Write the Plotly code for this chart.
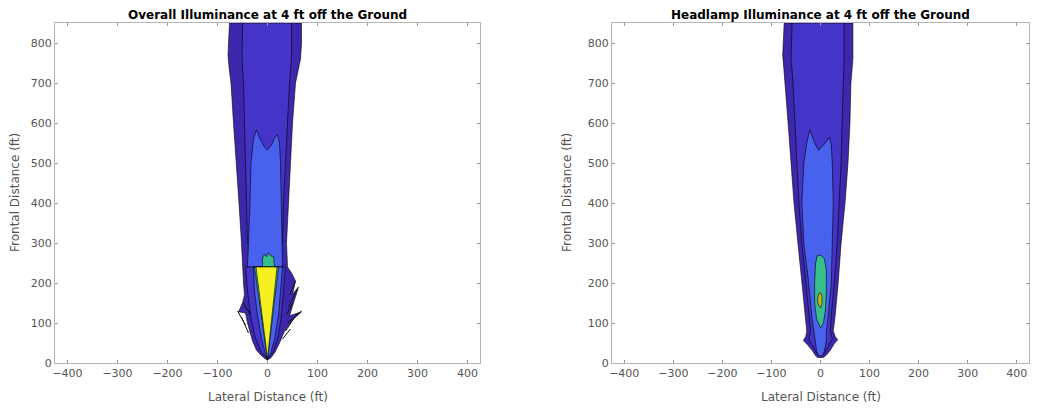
import plotly.graph_objects as go

# ---------------- data: contour region outlines (ft) ----------------
# Left: Overall illuminance
L_outer_x = [-76, -77, -79, -77, -73, -68, -62, -57, -52, -50, -48, -46, -50, -58, -44, -40, -36, -30, -22, -12, -4,
             0, 6, 14, 24, 34, 48, 68, 44, 52, 62, 50, 56, 48, 40, 38, 42, 46, 50, 56, 66, 68, 68]
L_outer_y = [850, 800, 770, 740, 700, 600, 500, 400, 300, 240, 200, 170, 150, 128, 125, 100, 80, 55, 32, 18, 10,
             8, 12, 25, 50, 80, 105, 128, 118, 150, 190, 172, 205, 225, 240, 300, 400, 500, 600, 700, 760, 800, 850]
L_inner_x = [-50, -51, -48, -46, -44, -41, -40, 30, 32, 36, 40, 44, 48, 48]
L_inner_y = [850, 760, 700, 600, 500, 400, 300, 300, 400, 500, 600, 700, 760, 850]
L_light_x = [-40, -38, -35, -33, -28, -22, -15, -6, 0, 8, 15, 20, 24, 26, 28, 30, 30]
L_light_y = [240, 300, 400, 500, 560, 583, 560, 540, 532, 545, 565, 570, 550, 500, 400, 300, 240]
L_bot2_x = [-44, -40, -34, -26, -14, 0, 12, 22, 28, 32, 36]
L_bot2_y = [240, 180, 120, 70, 30, 10, 30, 70, 120, 180, 240]
L_bot3_x = [-28, -26, -20, -12, -4, 0, 6, 14, 22, 26, 30]
L_bot3_y = [240, 180, 120, 60, 22, 9, 22, 60, 120, 180, 240]
L_green_x = [-10, -10, -6, -2, 2, 6, 12, 14]
L_green_y = [240, 262, 272, 266, 276, 268, 266, 240]
L_yg_x = [-26, 0, 22]
L_yg_y = [240, 8, 240]
L_yellow_x = [-23, 0, 19]
L_yellow_y = [240, 12, 240]
# feather strokes (contour lines) at the lower flanks
L_feather_x = [[-60, -44], [-52, -38], [-48, -34], [40, 68], [42, 60], [44, 56], [36, 52], [38, 50], [30, 46]]
L_feather_y = [[130, 95], [115, 75], [150, 120], [100, 130], [140, 185], [170, 205], [80, 110], [120, 150], [60, 85]]

# Right: Headlamp illuminance
R_outer_x = [-74, -75, -77, -75, -72, -66, -60, -54, -46, -38, -32, -28, -30, -35, -26, -16, -10, -6, 6, 12, 20, 28,
             35, 30, 26, 30, 36, 42, 50, 56, 60, 62, 66, 66, 66]
R_outer_y = [850, 800, 770, 740, 700, 600, 500, 400, 300, 200, 120, 80, 66, 56, 45, 30, 18, 14, 14, 20, 32, 48,
             58, 66, 80, 120, 200, 300, 400, 500, 600, 700, 760, 800, 850]
R_inner_x = [-58, -60, -56, -52, -48, -44, -38, -30, -24, -20, -24, -14, -6, 6, 14, 24, 20, 22, 28, 34, 38, 42, 44,
             46, 48, 48]
R_inner_y = [850, 760, 700, 600, 500, 400, 300, 200, 120, 80, 60, 40, 22, 22, 40, 60, 80, 120, 200, 300, 400, 500,
             600, 700, 760, 850]
R_light_x = [-22, -28, -34, -38, -34, -24, -18, -14, -12, -8, -4, 4, 8, 12, 12, 16, 22, 24, 26, 24, 22, 18, 10, -4,
             -12]
R_light_y = [583, 550, 500, 400, 300, 200, 120, 80, 55, 30, 18, 18, 30, 55, 80, 120, 200, 300, 400, 500, 545, 565,
             550, 532, 550]
R_green_x = [0, -8, -12, -12, -10, -6, 2, 8, 12, 12, 10, 6]
R_green_y = [88, 110, 150, 200, 250, 270, 268, 260, 230, 180, 130, 100]
R_core_x = [0, -5, -6, -4, 0, 3, 3]
R_core_y = [138, 148, 160, 172, 176, 166, 148]

x_ticks = [-400, -300, -200, -100, 0, 100, 200, 300, 400]
y_ticks = [0, 100, 200, 300, 400, 500, 600, 700, 800]
titles = ["Overall Illuminance at 4 ft off the Ground", "Headlamp Illuminance at 4 ft off the Ground"]
x_label = "Lateral Distance (ft)"
y_label = "Frontal Distance (ft)"

# ---------------- colours (parula-like) ----------------
C1 = "#3d28ad"
C2 = "#4434c8"
C3 = "#4862ee"
C4 = "#38bd8c"
C5 = "#f6f020"
C6 = "#c8b428"

fig = go.Figure()


def poly(xs, ys, color, axis, lw=0.6):
    fig.add_trace(go.Scatter(x=xs + [xs[0]], y=ys + [ys[0]], mode="lines", fill="toself",
                             fillcolor=color, line=dict(color="black", width=lw),
                             xaxis="x" + axis, yaxis="y" + axis, hoverinfo="skip", showlegend=False))


# left
poly(L_outer_x, L_outer_y, C1, "")
poly(L_inner_x, L_inner_y, C2, "")
poly(L_light_x, L_light_y, C3, "")
poly(L_bot2_x, L_bot2_y, C2, "")
poly(L_bot3_x, L_bot3_y, C3, "")
poly(L_green_x, L_green_y, C4, "")
poly(L_yg_x, L_yg_y, C4, "")
poly(L_yellow_x, L_yellow_y, C5, "")
for fx, fy in zip(L_feather_x, L_feather_y):
    fig.add_trace(go.Scatter(x=fx, y=fy, mode="lines", line=dict(color="#111", width=1),
                             xaxis="x", yaxis="y", hoverinfo="skip", showlegend=False))
# right
poly(R_outer_x, R_outer_y, C1, "2")
poly(R_inner_x, R_inner_y, C2, "2")
poly(R_light_x, R_light_y, C3, "2")
poly(R_green_x, R_green_y, C4, "2")
poly(R_core_x, R_core_y, C6, "2")

FONT = "DejaVu Sans, Verdana, sans-serif"
ax_common = dict(showgrid=False, zeroline=False, showline=True, linecolor="#b4b4b4", linewidth=1,
                 mirror="ticks", ticks="inside", ticklen=3, tickcolor="#9a9a9a", automargin=False,
                 tickfont=dict(family=FONT, size=11, color="#555"))
xa = dict(ax_common, range=[-425, 425], tickvals=x_ticks)
ya = dict(ax_common, range=[0, 850], tickvals=y_ticks)

L0, L1, R0, R1 = 55, 480, 612, 1029
B, T = 363, 23
W, H = 1039, 408

lab_font = dict(family=FONT, size=12, color="#555")
ann = []
for (a, b), t, yx in [((L0, L1), titles[0], 15), ((R0, R1), titles[1], 567)]:
    ann.append(dict(text="<b>" + t + "</b>", x=(a + b) / 2 / W, y=(H - 15) / H, xref="paper", yref="paper",
                    showarrow=False, xanchor="center", yanchor="middle",
                    font=dict(family=FONT, size=12, color="black")))
    ann.append(dict(text=x_label, x=(a + b) / 2 / W, y=(H - 397) / H, xref="paper", yref="paper",
                    showarrow=False, xanchor="center", yanchor="middle", font=lab_font))
    ann.append(dict(text=y_label, x=yx / W, y=(H - (B + T) / 2) / H, xref="paper", yref="paper",
                    showarrow=False, xanchor="center", yanchor="middle", textangle=-90, font=lab_font))

fig.update_layout(
    width=W, height=H, margin=dict(l=0, r=0, t=0, b=0),
    paper_bgcolor="white", plot_bgcolor="white",
    xaxis=dict(xa, domain=[L0 / W, L1 / W], anchor="y"),
    yaxis=dict(ya, domain=[(H - B) / H, (H - T) / H], anchor="x"),
    xaxis2=dict(xa, domain=[R0 / W, R1 / W], anchor="y2"),
    yaxis2=dict(ya, domain=[(H - B) / H, (H - T) / H], anchor="x2"),
    annotations=ann,
)

fig.write_html("out.html", config={"displayModeBar": False},
               post_script="document.body.style.margin='0';document.body.style.overflow='hidden';")
